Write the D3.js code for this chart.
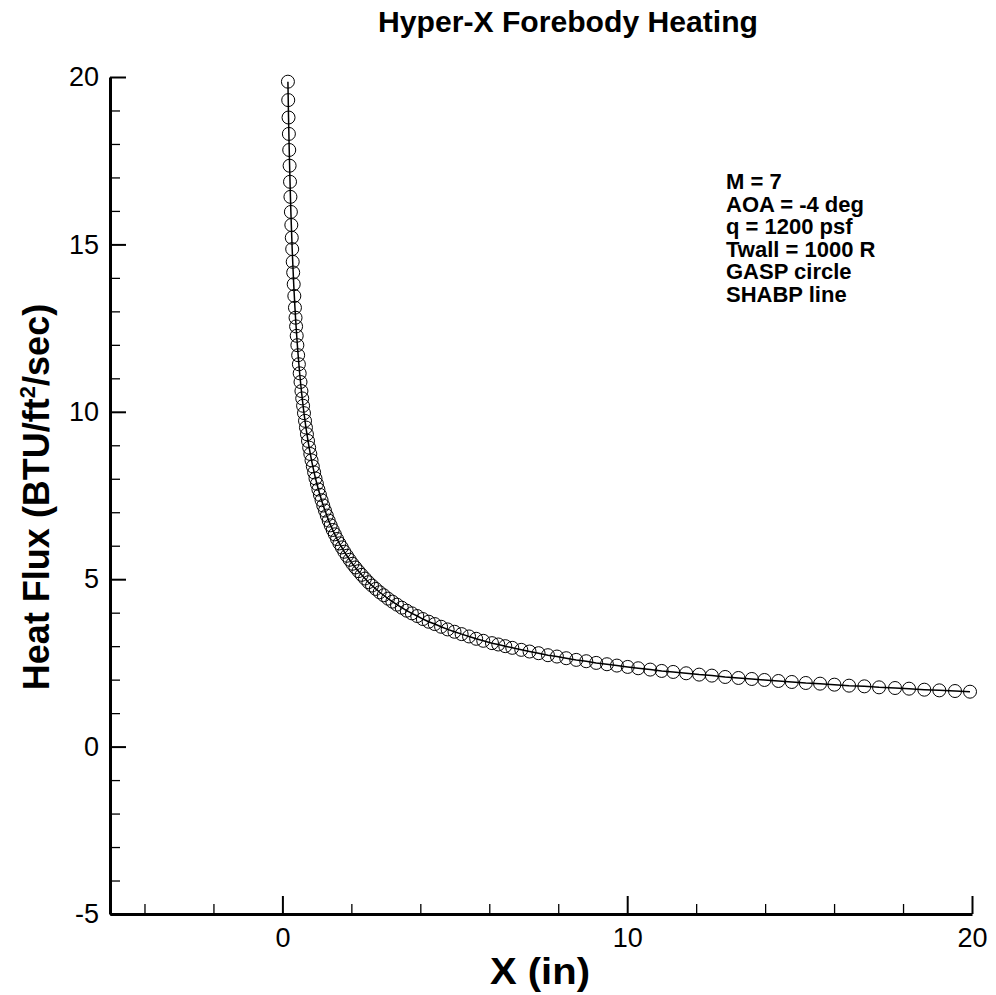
<!DOCTYPE html>
<html>
<head>
<meta charset="utf-8">
<script src="https://cdn.jsdelivr.net/npm/d3@7"></script>
<style>
  body { margin: 0; background: #fff; }
  svg { display: block; }
</style>
</head>
<body>
<div id="chart"></div>
<script>
// GASP points, x in inches along the forebody
var gaspX = [
  0.160, 0.169, 0.178, 0.188, 0.198, 0.209, 0.221, 0.233, 0.246, 0.259,
  0.272, 0.284, 0.299, 0.313, 0.328, 0.346, 0.364, 0.381, 0.397, 0.415,
  0.434, 0.457, 0.478, 0.501, 0.525, 0.552, 0.575, 0.600, 0.626, 0.656,
  0.683, 0.712,
  0.743, 0.776, 0.810, 0.845, 0.882, 0.920, 0.960, 1.001, 1.044, 1.089,
  1.136, 1.184, 1.235, 1.288, 1.343, 1.400, 1.459, 1.521, 1.585, 1.653,
  1.722, 1.795, 1.871, 1.949, 2.031, 2.117, 2.206, 2.298, 2.395, 2.495,
  2.599, 2.708, 2.821, 2.939, 3.062, 3.189, 3.322, 3.461, 3.605, 3.754,
  3.911, 4.073, 4.242, 4.418, 4.602, 4.792, 4.991, 5.198, 5.413, 5.620,
  5.826, 6.078, 6.261, 6.464, 6.667, 6.928, 7.168, 7.429, 7.701, 7.962,
  8.232, 8.522, 8.812, 9.101, 9.412, 9.701, 10.014, 10.319, 10.667, 11.000,
  11.333, 11.710, 12.087, 12.455, 12.841, 13.226, 13.614, 13.980, 14.386, 14.774,
  15.180, 15.594, 16.009, 16.435, 16.878, 17.304, 17.768, 18.174, 18.617, 19.052,
  19.507, 19.942
];
// heat flux, BTU/ft^2/sec
var gaspQ = [
  19.86, 19.31, 18.79, 18.30, 17.82, 17.35, 16.87, 16.42, 15.97, 15.58,
  15.20, 14.86, 14.48, 14.16, 13.81, 13.46, 13.11, 12.81, 12.55, 12.27,
  11.99, 11.69, 11.42, 11.15, 10.89, 10.62, 10.40, 10.18, 9.96, 9.73,
  9.53, 9.33,
  9.13, 8.93, 8.74, 8.55, 8.37, 8.19, 8.01, 7.85, 7.68, 7.52,
  7.36, 7.20, 7.05, 6.90, 6.75, 6.61, 6.47, 6.34, 6.20, 6.07,
  5.95, 5.82, 5.70, 5.58, 5.46, 5.35, 5.24, 5.13, 5.02, 4.91,
  4.81, 4.71, 4.61, 4.52, 4.42, 4.33, 4.24, 4.15, 4.06, 3.98,
  3.90, 3.81, 3.73, 3.66, 3.58, 3.50, 3.43, 3.36, 3.29, 3.22,
  3.16, 3.09, 3.05, 3.00, 2.95, 2.89, 2.84, 2.79, 2.73, 2.69,
  2.64, 2.59, 2.55, 2.50, 2.46, 2.42, 2.38, 2.34, 2.30, 2.26,
  2.23, 2.19, 2.15, 2.12, 2.08, 2.05, 2.02, 1.99, 1.96, 1.93,
  1.90, 1.88, 1.85, 1.82, 1.80, 1.77, 1.75, 1.73, 1.70, 1.68,
  1.66, 1.64
];
// SHABP line lies on top of the GASP points
var shabpX = gaspX;
var shabpQ = gaspQ;

var xMajor = [0, 10, 20];
var xMinor = [-4, -2, 2, 4, 6, 8, 12, 14, 16, 18];
var yMajor = [-5, 0, 5, 10, 15, 20];
var yMinor = [-4, -3, -2, -1, 1, 2, 3, 4, 6, 7, 8, 9, 11, 12, 13, 14, 16, 17, 18, 19];

var notes = ["M = 7", "AOA = -4 deg", "q = 1200 psf", "Twall = 1000 R", "GASP circle", "SHABP line"];

var width = 996, height = 995;

var svg = d3.select("#chart")
    .append("svg")
        .attr("width", width)
        .attr("height", height);

var x = d3.scaleLinear()
    .domain([-5, 20])
    .range([110, 972]);

var y = d3.scaleLinear()
    .domain([-5, 20])
    .range([914, 77]);

var font = "'Liberation Sans', Arial, sans-serif";

// title
svg.append("text")
    .attr("x", 568)
    .attr("y", 32)
    .attr("text-anchor", "middle")
    .style("font-family", font)
    .style("font-weight", "bold")
    .style("font-size", "29px")
    .attr("textLength", 380)
    .attr("lengthAdjust", "spacingAndGlyphs")
    .text("Hyper-X Forebody Heating");

// minor ticks
svg.append("g")
    .attr("transform", "translate(0," + y(-5) + ")")
    .call(d3.axisBottom(x).tickValues(xMinor).tickSizeInner(-10).tickSizeOuter(0).tickFormat(""))
    .call(function(g) { g.select(".domain").remove(); })
    .selectAll("line").attr("stroke", "#000").attr("stroke-width", 1.3);

svg.append("g")
    .attr("transform", "translate(" + x(-5) + ",0)")
    .call(d3.axisLeft(y).tickValues(yMinor).tickSizeInner(-10).tickSizeOuter(0).tickFormat(""))
    .call(function(g) { g.select(".domain").remove(); })
    .selectAll("line").attr("stroke", "#000").attr("stroke-width", 1.3);

// major ticks + labels
var plain = function(d) { return String(d); };

var xAxis = svg.append("g")
    .attr("transform", "translate(0," + y(-5) + ")")
    .call(d3.axisBottom(x).tickValues(xMajor).tickFormat(plain).tickSizeInner(-18).tickSizeOuter(0).tickPadding(14));

var yAxis = svg.append("g")
    .attr("transform", "translate(" + x(-5) + ",0)")
    .call(d3.axisLeft(y).tickValues(yMajor).tickFormat(plain).tickSizeInner(-16).tickSizeOuter(0).tickPadding(11));

[xAxis, yAxis].forEach(function(g) {
    g.select(".domain").attr("stroke", "#000").attr("stroke-width", 3);
    g.selectAll(".tick line").attr("stroke", "#000").attr("stroke-width", 2);
    g.selectAll(".tick text")
        .attr("fill", "#000")
        .style("font-family", font)
        .style("font-size", "27px");
});

// axis titles
svg.append("text")
    .attr("x", 540)
    .attr("y", 984)
    .attr("text-anchor", "middle")
    .style("font-family", font)
    .style("font-weight", "bold")
    .style("font-size", "36px")
    .attr("textLength", 100)
    .attr("lengthAdjust", "spacingAndGlyphs")
    .text("X (in)");

var yTitle = svg.append("text")
    .attr("transform", "translate(49,497) rotate(-90)")
    .attr("text-anchor", "middle")
    .style("font-family", font)
    .style("font-weight", "bold")
    .style("font-size", "36px");
yTitle.append("tspan").text("Heat Flux (BTU/ft");
yTitle.append("tspan").attr("dy", -14).style("font-size", "22px").text("2");
yTitle.append("tspan").attr("dy", 14).text("/sec)");

// notes
svg.append("g")
    .selectAll("text")
    .data(notes)
    .enter()
    .append("text")
        .attr("x", 726)
        .attr("y", function(d, i) { return 189 + i * 22.6; })
        .style("font-family", font)
        .style("font-weight", "bold")
        .style("font-size", "22px")
        .text(function(d) { return d; });

// SHABP line
var line = d3.line()
    .x(function(d) { return x(d[0]); })
    .y(function(d) { return y(d[1]); });

svg.append("path")
    .datum(d3.zip(shabpX, shabpQ))
    .attr("d", line)
    .attr("fill", "none")
    .attr("stroke", "#000")
    .attr("stroke-width", 1.5);

// GASP circles
svg.append("g")
    .selectAll("circle")
    .data(d3.zip(gaspX, gaspQ))
    .enter()
    .append("circle")
        .attr("cx", function(d) { return x(d[0]); })
        .attr("cy", function(d) { return y(d[1]); })
        .attr("r", 6.5)
        .attr("fill", "none")
        .attr("stroke", "#000")
        .attr("stroke-width", 1);
</script>
</body>
</html>
